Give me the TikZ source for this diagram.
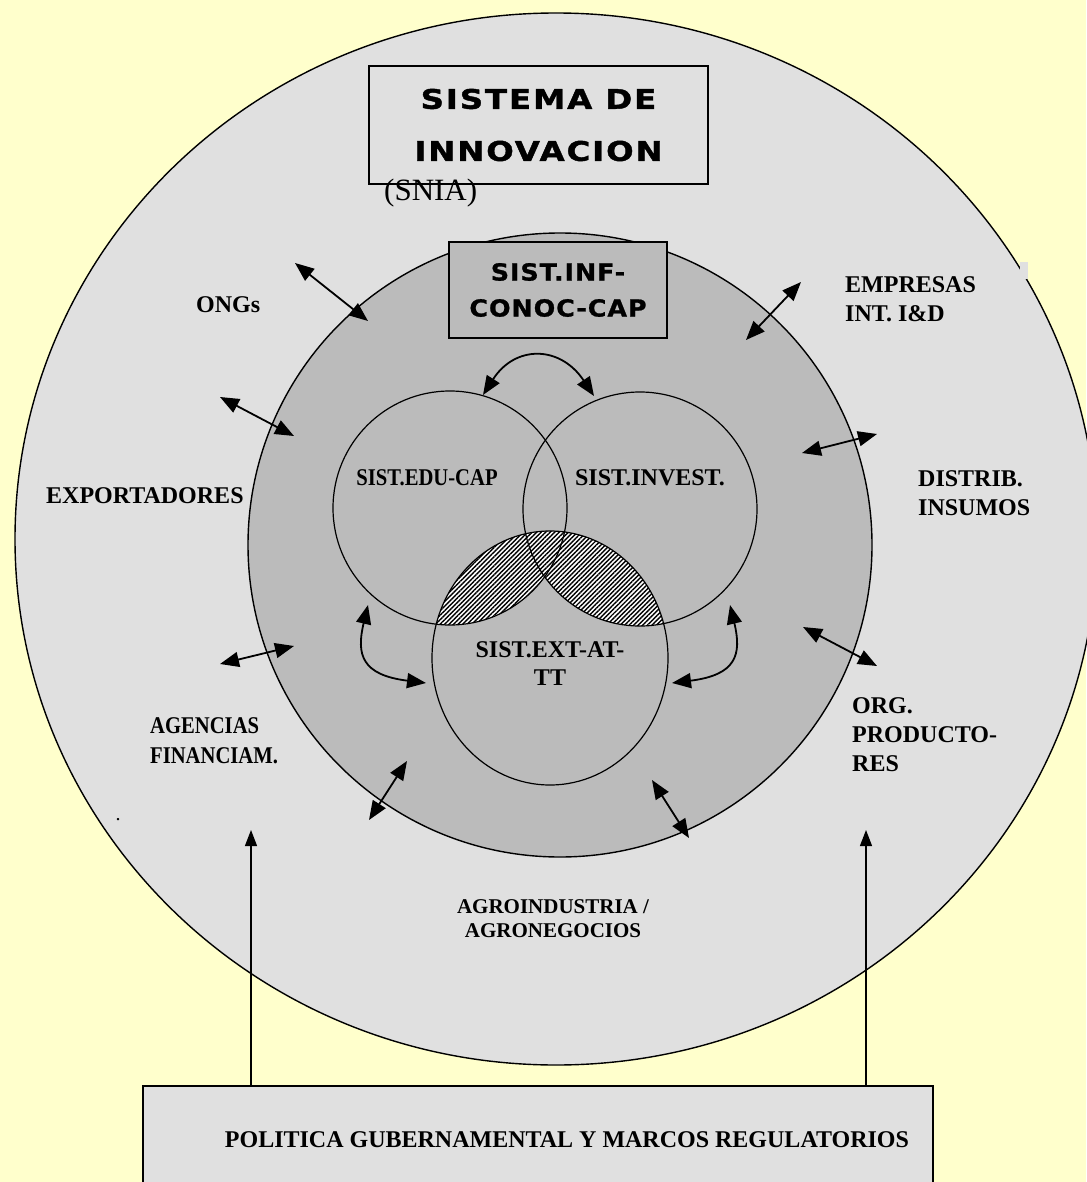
\documentclass[tikz,border=0pt]{standalone}
\usepackage{fontspec}
\setmainfont{Liberation Serif}
\newfontfamily\headfont{DejaVu Sans}[FakeStretch=1.2, FakeBold=1.5, LetterSpace=7]
\newfontfamily\boxfont{DejaVu Sans}[FakeStretch=1.08, FakeBold=1, LetterSpace=4]
\newfontfamily\narrowfont{Liberation Serif}[FakeStretch=0.86]
\usetikzlibrary{arrows.meta,patterns.meta}
\definecolor{bgyellow}{HTML}{FFFFCC}
\definecolor{outergray}{HTML}{E0E0E0}
\definecolor{innergray}{HTML}{BBBBBB}

\begin{document}
\begin{tikzpicture}[
    x=1pt, y=-1pt,
    lab/.style={%
      font=\bfseries\fontsize{24}{29}\selectfont,
      inner sep=0pt,
    },
    box/.style={%
      draw,
      rectangle,
      line width=1.6pt,
      align=center,
    },
    arr/.style={%
      line width=1.8pt,
      {Triangle[length=19pt,width=15pt]}-{Triangle[length=19pt,width=15pt]},
    },
    up/.style={%
      line width=1.2pt,
      -{Triangle[length=16pt,width=12pt]},
    },
  ]

    % background and the two rings
    \fill[bgyellow] (0,0) rectangle (1086,1182);
    \useasboundingbox (0,0) rectangle (1086,1182);
    \filldraw[fill=outergray, line width=1.4pt] (556,539) ellipse [x radius=541pt, y radius=526pt];
    \fill[outergray] (1020,262) rectangle (1028,279);
    \filldraw[fill=innergray, line width=1.4pt] (560,545) circle [radius=312pt];

    % hatched overlaps
    \begin{scope}
      \clip (550,658) ellipse [x radius=118pt, y radius=127pt];
      \fill[white] (450,508) circle [radius=117pt] (640,509) circle [radius=117pt];
      \fill[pattern={Lines[angle=45,distance=3.2pt,line width=1.4pt]}]
        (450,508) circle [radius=117pt] (640,509) circle [radius=117pt];
    \end{scope}
    \draw[line width=1.2pt] (450,508) circle [radius=117pt];
    \draw[line width=1.2pt] (640,509) circle [radius=117pt];
    \draw[line width=1.2pt] (550,658) ellipse [x radius=118pt, y radius=127pt];

    % boxes
    \node [box, fill=outergray, minimum width=339pt, minimum height=118pt,
      font=\headfont\bfseries\fontsize{27}{52}\selectfont] (title) at (538.5,125) {SISTEMA DE\\INNOVACION};
    \node [font=\fontsize{31}{32}\selectfont, anchor=base west, inner sep=0pt] (snia) at (384,201) {(SNIA)};
    \node [box, fill=innergray, minimum width=218pt, minimum height=96pt,
      font=\boxfont\bfseries\fontsize{23.5}{36}\selectfont] (inf) at (558,290) {SIST.INF-\\CONOC-CAP};
    \node [box, fill=outergray, minimum width=790pt, minimum height=110pt] (pol) at (538,1141) {};

    % labels
    \node [lab, anchor=base west] (ongs) at (196,312) {ONGs};
    \node [lab, anchor=north west, align=left] (emp) at (845,276) {EMPRESAS\\INT. I\&D};
    \node [lab, anchor=base west] (expo) at (46,503) {EXPORTADORES};
    \node [lab, anchor=north west, align=left] (dist) at (918,470) {DISTRIB.\\INSUMOS};
    \node [lab, anchor=north west, align=left,
      font=\narrowfont\bfseries\fontsize{24}{30}\selectfont] (agen) at (150,717) {AGENCIAS\\FINANCIAM.};
    \node [lab, anchor=north west, align=left] (org) at (852,697) {ORG.\\PRODUCTO-\\RES};
    \node [lab, align=center, font=\bfseries\fontsize{21}{24}\selectfont] (agro) at (553,919) {AGROINDUSTRIA /\\AGRONEGOCIOS};
    \node [lab, anchor=base, font=\narrowfont\bfseries\fontsize{24}{29}\selectfont] (edu) at (427,485) {SIST.EDU-CAP};
    \node [lab, anchor=base] (inv) at (650,485) {SIST.INVEST.};
    \node [lab, anchor=north, align=center, font=\bfseries\fontsize{24}{28}\selectfont] (ext) at (550,641) {SIST.EXT-AT-\\TT};
    \node [lab, anchor=base] (poltxt) at (567,1147) {POLITICA GUBERNAMENTAL Y MARCOS REGULATORIOS};
    \node [lab, anchor=base, font=\fontsize{20}{24}\selectfont] (dot) at (118,820) {.};

    % arrow ends
    \coordinate (ong1) at (295,263);
    \coordinate (ong2) at (368,321);
    \coordinate (exp1) at (220,397);
    \coordinate (exp2) at (294,436);
    \coordinate (emp1) at (801,282);
    \coordinate (emp2) at (746,340);
    \coordinate (dis1) at (877,434);
    \coordinate (dis2) at (802,453);
    \coordinate (age1) at (220,664);
    \coordinate (age2) at (294,646);
    \coordinate (org1) at (803,627);
    \coordinate (org2) at (877,666);
    \coordinate (bl1) at (369,820);
    \coordinate (bl2) at (407,761);
    \coordinate (br1) at (652,780);
    \coordinate (br2) at (689,838);
    \coordinate (top1) at (483,395);
    \coordinate (top2) at (594,396);
    \coordinate (lc1) at (368,605);
    \coordinate (lc2) at (426,683);
    \coordinate (rc1) at (730,605);
    \coordinate (rc2) at (672,683);
    \coordinate (up1) at (251,830);
    \coordinate (up2) at (866,830);

    \foreach \a/\b in {ong1/ong2, exp1/exp2, emp1/emp2, dis1/dis2, age1/age2, org1/org2, bl1/bl2, br1/br2}
      \draw [arr] (\a) -- (\b);
    \draw [arr] (top1) .. controls (515,345) and (560,345) .. (top2);
    \draw [arr] (lc1) .. controls (356,655) and (362,675) .. (lc2);
    \draw [arr] (rc1) .. controls (742,655) and (736,675) .. (rc2);
    \draw [up] (up1 |- pol.north) -- (up1);
    \draw [up] (up2 |- pol.north) -- (up2);
    \end{tikzpicture}
\end{document}
